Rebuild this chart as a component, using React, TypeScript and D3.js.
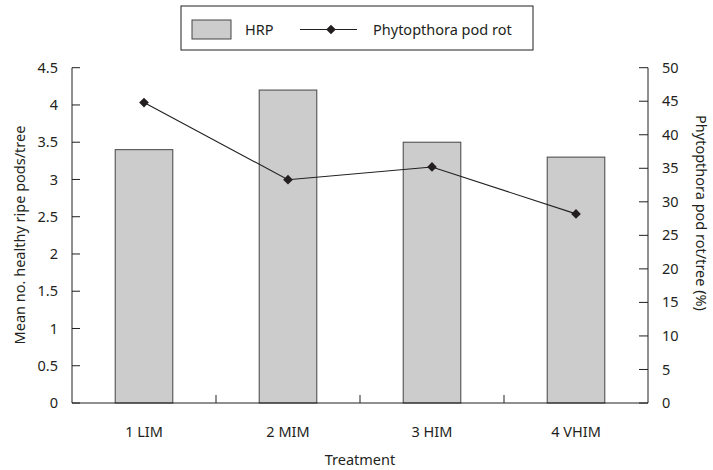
import * as d3 from "d3";

const categories = ["1 LIM", "2 MIM", "3 HIM", "4 VHIM"];
const hrp = [3.4, 4.2, 3.5, 3.3];
const podRot = [44.8, 33.3, 35.2, 28.2];
const leftTicks = [0, 0.5, 1, 1.5, 2, 2.5, 3, 3.5, 4, 4.5];
const rightTicks = [0, 5, 10, 15, 20, 25, 30, 35, 40, 45, 50];

const W = 713;
const H = 470;
const m = { left: 72, right: 648, top: 67.7, bottom: 403 };
const font = "'Noto Sans', sans-serif";
const ink = "#231f20";
const fs = 14.5;

export default function App() {
  const band = d3.scaleBand<string>().domain(categories).range([m.left, m.right]).padding(0);
  const bar = d3
    .scaleBand<string>()
    .domain(categories)
    .range([m.left, m.right])
    .paddingInner(0.6)
    .paddingOuter(0.3);
  const yL = d3.scaleLinear().domain([0, 4.5]).range([m.bottom, m.top]);
  const yR = d3.scaleLinear().domain([0, 50]).range([m.bottom, m.top]);
  const cx = (c: string) => (band(c) ?? 0) + band.bandwidth() / 2;

  const line = d3
    .line<number>()
    .x((_, i) => cx(categories[i]))
    .y((d) => yR(d));
  const diamond = d3.symbol(d3.symbolDiamond2, 60)() ?? "";

  return (
    <svg width={W} height={H} style={{ position: "absolute", left: 0, top: 0 }} fontFamily={font}>
      <rect width={W} height={H} fill="#fff" />
      {/* bars */}
      {categories.map((c, i) => (
        <rect
          key={c}
          x={bar(c)}
          y={yL(hrp[i])}
          width={bar.bandwidth()}
          height={m.bottom - yL(hrp[i])}
          fill="#cccccc"
          stroke="#444"
          strokeWidth={1}
        />
      ))}
      {/* line */}
      <path d={line(podRot) ?? ""} fill="none" stroke={ink} strokeWidth={1.1} />
      {podRot.map((v, i) => (
        <path key={i} d={diamond} transform={`translate(${cx(categories[i])},${yR(v)})`} fill={ink} />
      ))}
      {/* left axis */}
      <line x1={m.left} x2={m.left} y1={m.top} y2={m.bottom} stroke={ink} />
      {leftTicks.map((t) => (
        <g key={t}>
          <line x1={m.left} x2={m.left + 8} y1={yL(t)} y2={yL(t)} stroke={ink} />
          <text x={58} y={yL(t)} dy="0.35em" textAnchor="end" fontSize={fs} fill={ink}>
            {t}
          </text>
        </g>
      ))}
      {/* right axis */}
      <line x1={m.right} x2={m.right} y1={m.top} y2={m.bottom} stroke={ink} />
      {rightTicks.map((t) => (
        <g key={t}>
          <line x1={m.right - 9} x2={m.right} y1={yR(t)} y2={yR(t)} stroke={ink} />
          <text x={662} y={yR(t)} dy="0.35em" textAnchor="start" fontSize={fs} fill={ink}>
            {t}
          </text>
        </g>
      ))}
      {/* x axis */}
      <line x1={m.left} x2={m.right} y1={m.bottom} y2={m.bottom} stroke={ink} />
      {categories.slice(1).map((c) => (
        <line key={c} x1={band(c)} x2={band(c)} y1={m.bottom} y2={m.bottom - 8} stroke={ink} />
      ))}
      {categories.map((c) => (
        <text key={c} x={cx(c)} y={437} textAnchor="middle" fontSize={fs} fill={ink}>
          {c}
        </text>
      ))}
      <text x={(m.left + m.right) / 2} y={465} textAnchor="middle" fontSize={fs} fill={ink}>
        Treatment
      </text>
      <text
        transform={`translate(20,235) rotate(-90)`}
        dy="0.35em"
        textAnchor="middle"
        fontSize={fs}
        fill={ink}
      >
        Mean no. healthy ripe pods/tree
      </text>
      <text
        transform={`translate(701,213) rotate(90)`}
        dy="0.35em"
        textAnchor="middle"
        fontSize={fs}
        fill={ink}
      >
        Phytopthora pod rot/tree (%)
      </text>
      {/* legend */}
      <rect x={181} y={6} width={352} height={44} fill="#fff" stroke={ink} strokeWidth={1} />
      <rect x={192} y={20} width={39} height={19} fill="#cccccc" stroke="#444" />
      <text x={245} y={29.5} dy="0.35em" fontSize={fs} fill={ink}>
        HRP
      </text>
      <line x1={300} x2={357} y1={29.5} y2={29.5} stroke={ink} />
      <path d={diamond} transform="translate(331,29.5)" fill={ink} />
      <text x={373} y={29.5} dy="0.35em" fontSize={fs} fill={ink}>
        Phytopthora pod rot
      </text>
    </svg>
  );
}
